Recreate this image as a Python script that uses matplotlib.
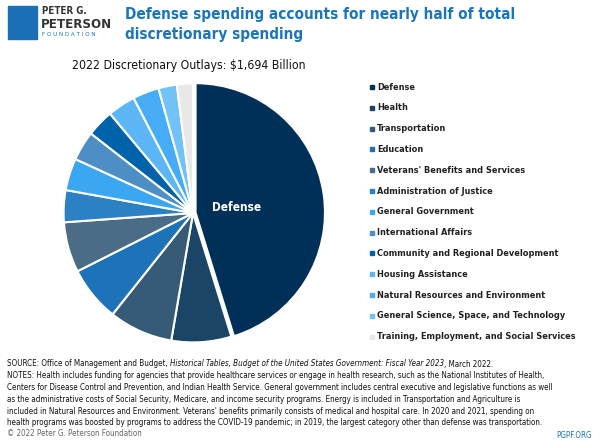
import matplotlib
matplotlib.use("Agg")
import matplotlib.pyplot as plt
from matplotlib.patches import Rectangle

categories = ["Defense", "Health", "Transportation", "Education",
              "Veterans' Benefits and Services", "Administration of Justice",
              "General Government", "International Affairs",
              "Community and Regional Development", "Housing Assistance",
              "Natural Resources and Environment",
              "General Science, Space, and Technology",
              "Training, Employment, and Social Services"]
shares = [45.3, 7.5, 8.0, 6.9, 6.3, 4.0, 4.0, 3.7, 3.4, 3.5, 3.3, 2.3, 2.0]
colours = ["#003057", "#1b4567", "#375b77", "#1d72b8", "#4b6c87", "#2b81c4",
           "#3ba6f2", "#4d8fc4", "#0062a8", "#5cb6f5", "#46acf6", "#70c2f7",
           "#e8e8e8"]

fam = "DejaVu Sans"
cond = dict(family=fam, stretch="condensed")
fig = plt.figure(figsize=(6, 4.42), dpi=100)

# logo
fig.patches.append(Rectangle((8/600, 1-39/442), 29/600, 33/442,
                             transform=fig.transFigure, color="#1a6fb5"))
fig.text(42/600, 1-11/442, "PETER G.", weight="bold", size=7,
         color="#333333", va="center", **cond)
fig.text(41/600, 1-24/442, "PETERSON", weight="bold", size=9.5,
         color="#333333", va="center", **cond)
fig.text(42/600, 1-35/442, "F O U N D A T I O N", size=4.5,
         color="#1a6fb5", va="center", **cond)
fig.text(125/600, 1-14/442, "Defense spending accounts for nearly half of total",
         size=11, weight="bold", color="#1a75bb", va="center", **cond)
fig.text(125/600, 1-34/442, "discretionary spending",
         size=11, weight="bold", color="#1a75bb", va="center", **cond)
fig.text(72/600, 1-65/442, "2022 Discretionary Outlays: $1,694 Billion",
         size=8.8, color="#111111", va="center", **cond)

ax = fig.add_axes([61/600, 1-345/442, 264/600, 264/442])
explode = [0.02] + [0] * (len(shares) - 1)
wedges, _ = ax.pie(shares, colors=colours, startangle=90, counterclock=False,
                   explode=explode, radius=1,
                   wedgeprops=dict(edgecolor="white", linewidth=1.5))
ax.set_xlim(-1.02, 1.02)
ax.set_ylim(-1.02, 1.02)
ax.text(0.34, 0.04, "Defense", color="white", size=8.5, weight="bold",
        ha="center", va="center", **cond)

for i, (c, col) in enumerate(zip(categories, colours)):
    y = 1 - (87 + i * 20.8) / 442
    fig.patches.append(Rectangle((370/600, y - 2/442), 4/600, 4/442,
                                 transform=fig.transFigure, color=col))
    fig.text(377/600, y, c, weight="bold", size=6.6,
             color="#222222", va="center", **cond)

# footer
fig.canvas.draw()
r = fig.canvas.get_renderer()
pieces = [("SOURCE: Office of Management and Budget, ", "normal"),
          ("Historical Tables, Budget of the United States Government: Fiscal Year 2023", "italic"),
          (", March 2022.", "normal")]
x = 7/600
for s, st in pieces:
    t = fig.text(x, 1-364/442, s, size=5.75, style=st,
                 color="#111111", va="center", **cond)
    bb = t.get_window_extent(r)
    x += bb.width / fig.bbox.width
notes = ["NOTES: Health includes funding for agencies that provide healthcare services or engage in health research, such as the National Institutes of Health,",
         "Centers for Disease Control and Prevention, and Indian Health Service. General government includes central executive and legislative functions as well",
         "as the administrative costs of Social Security, Medicare, and income security programs. Energy is included in Transportation and Agriculture is",
         "included in Natural Resources and Environment. Veterans' benefits primarily consists of medical and hospital care. In 2020 and 2021, spending on",
         "health programs was boosted by programs to address the COVID-19 pandemic; in 2019, the largest category other than defense was transportation."]
for i, s in enumerate(notes):
    fig.text(7/600, 1-(376 + i*11.7)/442, s, size=5.75,
             color="#111111", va="center", **cond)
fig.text(7/600, 1-434/442, "© 2022 Peter G. Peterson Foundation",
         size=5.75, color="#666666", va="center", **cond)
fig.text(592/600, 1-435/442, "PGPF.ORG",
         size=5.75, color="#1a75bb", va="center", ha="right", **cond)

fig.savefig("out.png", dpi=100)
